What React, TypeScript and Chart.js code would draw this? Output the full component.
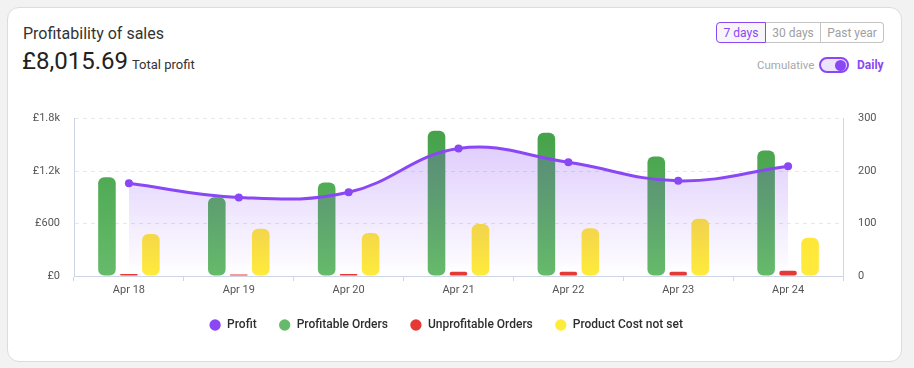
import React, { useEffect, useRef } from "react";
import { Chart, registerables } from "chart.js";

Chart.register(...registerables);

const categories = ["Apr 18", "Apr 19", "Apr 20", "Apr 21", "Apr 22", "Apr 23", "Apr 24"];
const profit = [1060, 898, 957, 1458, 1300, 1088, 1254.69];
const profitableOrders = [188, 150, 178, 277, 273, 228, 239];
const unprofitableOrders = [4, 3, 4, 8, 8, 8, 10];
const productCostNotSet = [80, 90, 82, 99, 91, 109, 73];
const leftTicks = [0, 600, 1200, 1800];
const leftTickLabels = ["£0", "£600", "£1.2k", "£1.8k"];
const rightTicks = [0, 100, 200, 300];

const PURPLE = "#8a47f5";
const AXIS = "#cdd5e6";
const FONT = "Roboto";

function vGrad(context: any, top: string, bottom: string, fallback: string) {
  const chart = context.chart;
  const area = chart.chartArea;
  if (!area) return fallback;
  const g = chart.ctx.createLinearGradient(0, area.top, 0, area.bottom);
  g.addColorStop(0, top);
  g.addColorStop(1, bottom);
  return g;
}

function ChartView() {
  const ref = useRef<HTMLCanvasElement | null>(null);
  useEffect(() => {
    if (!ref.current) return;
    const chart = new Chart(ref.current, {
      type: "bar",
      data: {
        labels: categories,
        datasets: [
          {
            type: "line",
            label: "Profit",
            data: profit,
            yAxisID: "y",
            borderColor: PURPLE,
            backgroundColor: (c: any) => vGrad(c, "rgba(138,71,245,0.32)", "rgba(138,71,245,0)", "rgba(138,71,245,0.15)"),
            pointBackgroundColor: PURPLE,
            pointBorderColor: PURPLE,
            pointRadius: 4,
            pointBorderWidth: 0,
            borderWidth: 3,
            tension: 0.4,
            fill: "origin",
            order: 0,
          } as any,
          {
            label: "Profitable Orders",
            data: profitableOrders,
            yAxisID: "y1",
            backgroundColor: (c: any) => vGrad(c, "#43a047", "#66bb6a", "#4caf50"),
            borderRadius: 6,
            borderSkipped: false,
            order: 1,
          },
          {
            label: "Unprofitable Orders",
            data: unprofitableOrders,
            yAxisID: "y1",
            backgroundColor: "#e53935",
            borderRadius: 6,
            borderSkipped: false,
            order: 1,
          },
          {
            label: "Product Cost not set",
            data: productCostNotSet,
            yAxisID: "y1",
            backgroundColor: (c: any) => vGrad(c, "#fdd835", "#ffeb3b", "#fdd835"),
            borderRadius: 6,
            borderSkipped: false,
            order: 1,
          },
        ],
      },
      options: {
        animation: false,
        responsive: true,
        maintainAspectRatio: false,
        layout: { padding: { left: 0, right: 0, top: 10, bottom: 0 } },
        datasets: { bar: { categoryPercentage: 0.6, barPercentage: 0.8 } },
        plugins: {
          legend: {
            position: "bottom",
            labels: {
              usePointStyle: true,
              pointStyle: "circle",
              boxHeight: 8,
              padding: 22,
              color: "#2e2e2e",
              font: { family: FONT, size: 12, weight: 500 as any },
            },
          },
          tooltip: { enabled: false },
        },
        scales: {
          x: {
            offset: true,
            afterFit: (s: any) => {
              s.height = 21;
            },
            grid: { display: true, offset: true, drawOnChartArea: false, drawTicks: true, tickLength: 5, color: AXIS },
            border: { display: true, color: AXIS },
            ticks: { color: "#555", padding: 3, font: { family: FONT, size: 11 } },
          },
          y: {
            position: "left",
            min: 0,
            max: 1800,
            afterFit: (s: any) => {
              s.width = 64;
            },
            afterBuildTicks: (axis: any) => {
              axis.ticks = leftTicks.map((v) => ({ value: v }));
            },
            grid: { color: "#e8e8e8", drawTicks: false },
            border: { display: true, color: AXIS, dash: [4, 4] } as any,
            ticks: {
              color: "#555",
              padding: 14,
              font: { family: FONT, size: 11 },
              callback: (v: any) => {
                const i = leftTicks.indexOf(Number(v));
                return i >= 0 ? leftTickLabels[i] : "";
              },
            },
          },
          y1: {
            position: "right",
            min: 0,
            max: 300,
            afterFit: (s: any) => {
              s.width = 39;
            },
            afterBuildTicks: (axis: any) => {
              axis.ticks = rightTicks.map((v) => ({ value: v }));
            },
            grid: { drawOnChartArea: false, drawTicks: false },
            border: { display: true, color: AXIS },
            ticks: { color: "#555", padding: 15, font: { family: FONT, size: 11 } },
          },
        },
      },
    } as any);
    return () => chart.destroy();
  }, []);
  return <canvas ref={ref} />;
}

export default function App() {
  const btnBase: React.CSSProperties = {
    boxSizing: "border-box",
    height: 21,
    display: "flex",
    alignItems: "center",
    justifyContent: "center",
    fontSize: 12,
    color: "#a0a0a0",
    border: "1px solid #c4c4c4",
    background: "#fff",
  };
  return (
    <div style={{ position: "fixed", inset: 0, background: "#f2f2f2", fontFamily: FONT }}>
      <div
        style={{
          position: "absolute",
          left: 7,
          top: 7,
          width: 895,
          height: 355,
          boxSizing: "border-box",
          background: "#fff",
          border: "1px solid #dcdcdc",
          borderRadius: 12,
        }}
      />
      <div style={{ position: "absolute", left: 23, top: 24, fontSize: 16, color: "#333", whiteSpace: "nowrap" }}>
        Profitability of sales
      </div>
      <div style={{ position: "absolute", left: 22, top: 47, whiteSpace: "nowrap", color: "#222" }}>
        <span style={{ fontSize: 24 }}>£8,015.69</span>
        <span style={{ fontSize: 13, marginLeft: 4, color: "#333" }}>Total profit</span>
      </div>
      <div style={{ position: "absolute", left: 716, top: 22, display: "flex" }}>
        <div
          style={{
            ...btnBase,
            width: 50,
            color: PURPLE,
            border: `1px solid ${PURPLE}`,
            background: "#f6f6f8",
            borderRadius: "4px 0 0 4px",
          }}
        >
          7 days
        </div>
        <div style={{ ...btnBase, width: 55, borderLeft: "none" }}>30 days</div>
        <div style={{ ...btnBase, width: 63, borderLeft: "none", borderRadius: "0 4px 4px 0" }}>Past year</div>
      </div>
      <div style={{ position: "absolute", left: 757, top: 58, fontSize: 11.5, color: "#a8a8a8", whiteSpace: "nowrap" }}>
        Cumulative
      </div>
      <div
        style={{
          position: "absolute",
          left: 819,
          top: 57,
          width: 30,
          height: 16,
          boxSizing: "border-box",
          border: `2px solid ${PURPLE}`,
          borderRadius: 8,
          background: "#ece4fd",
        }}
      >
        <div
          style={{
            position: "absolute",
            right: 1,
            top: 0.5,
            width: 11,
            height: 11,
            borderRadius: "50%",
            background: PURPLE,
          }}
        />
      </div>
      <div
        style={{ position: "absolute", left: 857, top: 58, fontSize: 12, fontWeight: 700, color: PURPLE, whiteSpace: "nowrap" }}
      >
        Daily
      </div>
      <div style={{ position: "absolute", left: 10, top: 97, width: 872, height: 244 }}>
        <ChartView />
      </div>
    </div>
  );
}
